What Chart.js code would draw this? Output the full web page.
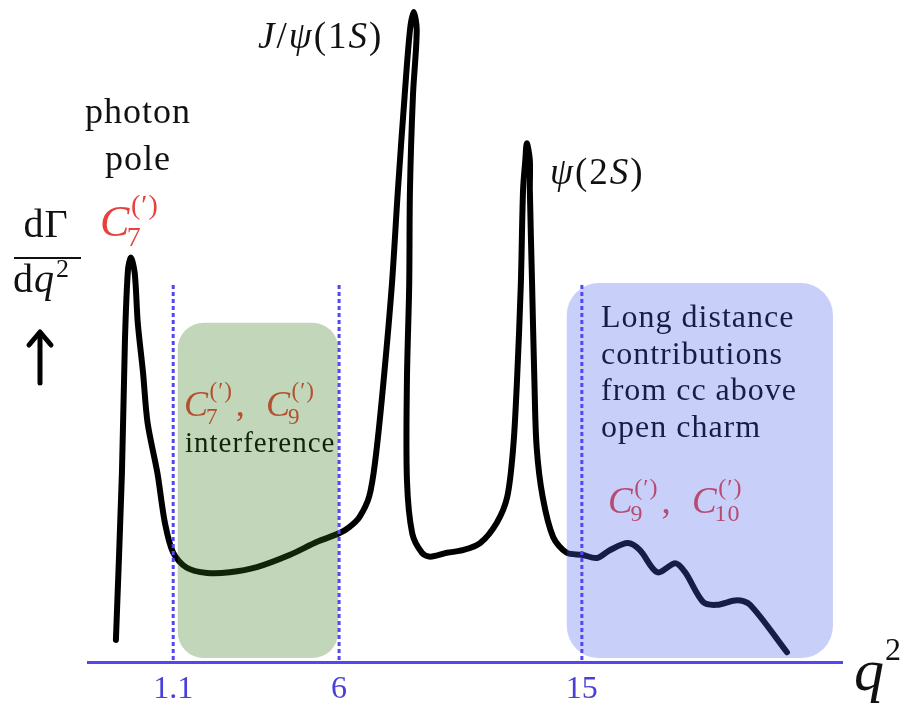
<!DOCTYPE html>
<html>
<head>
<meta charset="utf-8">
<script src="https://cdn.jsdelivr.net/npm/chart.js@4"></script>
<style>
  html, body { margin:0; padding:0; background:#fff; }
  canvas { display:block; }
</style>
</head>
<body>
<canvas id="c" width="910" height="714"></canvas>
<script>
// schematic units: x 0..100 along q2 axis, y 0..100 for dGamma/dq2
const curveX = [3.7,4.5,4.9,5.3,5.7,6.2,6.6,7.3,7.9,9.2,10.2,11.3,13.1,15.8,18.8,22.4,26.8,30.4,33.3,34.7,36.0,37.3,38.1,39.1,40.3,41.1,42.0,42.7,43.2,43.6,43.1,42.7,42.6,42.3,42.3,43.0,44.3,45.4,47.6,49.7,52.0,54.2,55.6,56.4,56.9,57.4,57.7,58.0,58.2,58.6,58.6,58.9,59.2,59.5,60.3,61.7,63.5,65.5,67.5,69.2,71.6,73.2,75.5,77.9,79.2,81.6,83.4,86.1,87.8,92.7];
const curveY = [3.4,29.1,49.5,60.3,62.2,59.8,52.2,44.5,36.8,29.1,21.4,16.8,14.5,13.7,13.8,14.6,16.5,18.5,19.8,20.8,22.3,25.5,31.0,42.0,58.0,72.6,87.2,97.2,100,97.2,87.2,72.6,58.0,43.4,28.0,19.8,16.8,16.2,16.8,17.2,18.3,21.4,25.4,33.1,43.4,58.0,72.6,77.2,79.8,77.2,72.6,58.0,43.4,33.1,25.4,19.2,16.8,16.5,16.0,17.2,18.3,17.2,13.8,15.2,13.8,9.2,8.8,9.5,8.8,1.5];

const tickPos = [11.3, 33.3, 65.5];
const tickLabels = ["1.1", "6", "15"];
const cutTop = 58;   // top of dashed bin boundaries

// shaded regions [x0, x1, y0, y1]
const greenBox = [11.9, 33.2, 0.6, 52.2];
const blueBox  = [63.5, 98.8, 0.6, 58.3];

const BLUE = "#5546f5";
const RED = "#e8413c";
const SERIF = '"Liberation Serif", "DejaVu Serif", serif';

function rich(ctx, parts, x, y){
  // parts: [text, fontSize, italic]
  let cx = x;
  parts.forEach(([t, size, it]) => {
    ctx.font = (it ? "italic " : "") + size + "px " + SERIF;
    ctx.fillText(t, cx, y);
    cx += ctx.measureText(t).width;
  });
  return cx;
}

function coeff(ctx, x, y, size, idx, color){
  ctx.fillStyle = color;
  ctx.textAlign = "left";
  ctx.font = "italic " + size + "px " + SERIF;
  ctx.fillText("C", x, y);
  const w = ctx.measureText("C").width;
  const s = Math.round(size * 0.64);
  ctx.font = s + "px " + SERIF;
  ctx.fillText(idx, x + w * 0.88, y + size * 0.22);
  ctx.fillText("(\u2032)", x + w * 1.02, y - size * 0.5);
  const w1 = ctx.measureText(idx).width, w2 = ctx.measureText("(\u2032)").width;
  return Math.max(x + w * 0.88 + w1, x + w * 1.02 + w2);
}

const decor = {
  id: "decor",
  afterDatasetsDraw(chart){
    const { ctx, scales: { x, y } } = chart;
    ctx.save();
    ctx.textBaseline = "alphabetic";
    ctx.letterSpacing = "1px";

    // text that sits under the translucent boxes
    let e = coeff(ctx, 184, 416, 36, "7", RED);
    ctx.font = "36px " + SERIF; ctx.fillText(",", e + 3, 416);
    coeff(ctx, 266, 416, 36, "9", RED);
    ctx.fillStyle = "#000";
    ctx.font = "29px " + SERIF;
    ctx.fillText("interference", 185, 452);

    ["Long distance", "contributions", "from cc above", "open charm"].forEach((l, i) => {
      ctx.font = "32px " + SERIF;
      ctx.fillText(l, 601, 327 + i * 36.5);
    });
    e = coeff(ctx, 608, 513, 37, "9", RED);
    ctx.font = "37px " + SERIF; ctx.fillStyle = RED; ctx.fillText(",", e + 3, 513);
    coeff(ctx, 692, 513, 37, "10", RED);

    // translucent boxes
    const box = (b, col, r) => {
      const x0 = x.getPixelForValue(b[0]), x1 = x.getPixelForValue(b[1]);
      const y0 = y.getPixelForValue(b[3]), y1 = y.getPixelForValue(b[2]);
      ctx.fillStyle = col;
      ctx.beginPath(); ctx.roundRect(x0, y0, x1 - x0, y1 - y0, r); ctx.fill();
    };
    box(greenBox, "rgba(52,118,22,0.3)", 26);
    box(blueBox, "rgba(72,98,238,0.3)", 32);

    // dashed bin limits
    ctx.strokeStyle = BLUE; ctx.lineWidth = 3; ctx.setLineDash([4, 3]);
    tickPos.forEach(v => {
      const px = x.getPixelForValue(v);
      ctx.beginPath(); ctx.moveTo(px, y.getPixelForValue(cutTop)); ctx.lineTo(px, y.getPixelForValue(0)); ctx.stroke();
    });
    ctx.setLineDash([]);

    // labels outside boxes
    ctx.fillStyle = "#111";
    ctx.textAlign = "center";
    ctx.font = "36px " + SERIF;
    ctx.fillText("photon", 138, 123);
    ctx.fillText("pole", 138, 170);
    coeff(ctx, 100, 236, 44, "7", RED);

    ctx.fillStyle = "#111"; ctx.textAlign = "left";
    ctx.letterSpacing = "2px";
    rich(ctx, [["J", 37, true], ["/", 37, false], ["\u03c8", 37, true], ["(1", 37, false], ["S", 37, true], [")", 37, false]], 258, 48);
    rich(ctx, [["\u03c8", 37, true], ["(2", 37, false], ["S", 37, true], [")", 37, false]], 550, 184);

    // dGamma/dq2 with arrow
    ctx.letterSpacing = "1px";
    ctx.textAlign = "center";
    ctx.font = "40px " + SERIF;
    ctx.fillText("d\u0393", 46, 237);
    ctx.fillRect(14, 257, 67, 2);
    ctx.textAlign = "left";
    const qe = rich(ctx, [["d", 40, false], ["q", 40, true]], 13, 292);
    ctx.font = "26px " + SERIF; ctx.fillText("2", qe + 1, 277);
    ctx.strokeStyle = "#000"; ctx.lineWidth = 5; ctx.lineCap = "round"; ctx.lineJoin = "round";
    ctx.beginPath(); ctx.moveTo(40, 383); ctx.lineTo(40, 333); ctx.stroke();
    ctx.beginPath(); ctx.moveTo(29, 345); ctx.lineTo(40, 332); ctx.lineTo(51, 345); ctx.stroke();

    // axis title
    ctx.letterSpacing = "0px";
    ctx.fillStyle = "#111";
    ctx.font = "italic 60px " + SERIF; ctx.fillText("q", 854, 690);
    ctx.font = "32px " + SERIF; ctx.fillText("2", 885, 660);
    ctx.restore();
  }
};

new Chart(document.getElementById("c"), {
  type: "scatter",
  data: {
    datasets: [{
      data: curveX.map((v, i) => ({ x: v, y: curveY[i] })),
      showLine: true,
      borderColor: "#000",
      borderWidth: 6,
      borderCapStyle: "round",
      borderJoinStyle: "round",
      tension: 0.3,
      pointRadius: 0,
      clip: 20
    }]
  },
  options: {
    responsive: false,
    animation: false,
    devicePixelRatio: 1,
    layout: { padding: { left: 88, right: 68, top: 12, bottom: -4 } },
    plugins: { legend: { display: false }, tooltip: { enabled: false } },
    scales: {
      x: {
        type: "linear", min: 0, max: 100,
        grid: { display: false, drawTicks: false },
        border: { display: true, color: BLUE, width: 3 },
        afterBuildTicks: s => { s.ticks = tickPos.map(v => ({ value: v })); },
        ticks: {
          autoSkip: false, maxRotation: 0, padding: 20,
          color: "#4a40d8",
          font: { family: SERIF, size: 32, lineHeight: 0.5 },
          callback: v => tickLabels[tickPos.indexOf(v)]
        }
      },
      y: { display: false, min: 0, max: 100 }
    }
  },
  plugins: [decor]
});
</script>
</body>
</html>
